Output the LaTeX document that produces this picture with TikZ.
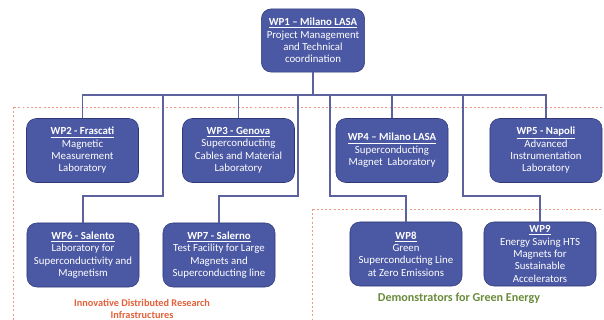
\documentclass[tikz,border=0pt]{standalone}
\usepackage{fontspec}
\setmainfont{Carlito}
\definecolor{wpfill}{HTML}{4B58A3}
\definecolor{wpedge}{HTML}{2E3877}
\definecolor{wpline}{HTML}{5C629E}
\definecolor{dotline}{HTML}{EE9A80}
\definecolor{idrlabel}{HTML}{E2603A}
\definecolor{greenlabel}{HTML}{6A8B3A}
\tikzset{
  wpbox/.style={draw=wpedge, fill=wpfill, text=white, rounded corners=7pt,
    align=center, inner sep=1pt, minimum width=2.8cm, minimum height=1.6cm,
    font=\fontsize{7.7}{8.8}\selectfont},
  wplink/.style={draw=wpline, line width=0.8pt},
  groupbox/.style={draw=dotline, line width=0.7pt, dash pattern=on 1.4pt off 1.6pt},
}
\newcommand{\wptitle}[1]{\underline{\textbf{#1}}}
\begin{document}
\begin{tikzpicture}[x=0.025cm, y=-0.025cm]
    \useasboundingbox (0,0) rectangle (604,320);
    \clip (0,0) rectangle (604,320);
    % group frames
    \draw[groupbox] (13,107) rectangle (640,340);
    \draw[groupbox] (312,209) rectangle (640,340);
    % work packages
    \node[wpbox, minimum width=2.58cm, minimum height=1.58cm] (wp1) at (313,40.5)
        {\wptitle{WP1 -- Milano LASA}\\Project Management\\and Technical\\coordination};
    \node[wpbox] (wp2) at (82.5,150.5) {\wptitle{WP2 - Frascati}\\Magnetic\\Measurement\\Laboratory};
    \node[wpbox] (wp3) at (238.5,150.5) {\wptitle{WP3 - Genova}\\Superconducting\\Cables and Material\\Laboratory};
    \node[wpbox] (wp4) at (392,150.5) {\wptitle{WP4 -- Milano LASA}\\Superconducting\\Magnet~ Laboratory};
    \node[wpbox] (wp5) at (546,150.5) {\wptitle{WP5 - Napoli}\\Advanced\\Instrumentation\\Laboratory};
    \node[wpbox] (wp6) at (83,255) {\wptitle{WP6 - Salento}\\Laboratory for\\Superconductivity and\\Magnetism};
    \node[wpbox] (wp7) at (219,255) {\wptitle{WP7 - Salerno}\\Test Facility for Large\\Magnets and\\Superconducting line};
    \node[wpbox] (wp8) at (406,254) {\wptitle{WP8}\\Green\\Superconducting Line\\at Zero Emissions};
    \node[wpbox] (wp9) at (540,254) {\wptitle{WP9}\\Energy Saving HTS\\Magnets for\\Sustainable\\Accelerators};
    % bus points
    \coordinate (bus) at (313,95);
    \coordinate (elb) at (0,196);
    \coordinate (b6) at (163,95);
    \coordinate (b7) at (298,95);
    \coordinate (b8) at (330,95);
    \coordinate (b9) at (463,95);
    \draw[wplink] (wp1) -- (bus);
    \draw[wplink] (wp2) |- (bus);
    \draw[wplink] (wp5) |- (bus);
    \draw[wplink] (wp3) -- (wp3 |- bus);
    \draw[wplink] (wp4) -- (wp4 |- bus);
    \draw[wplink] (b6) -- (b6 |- elb) -| (wp6);
    \draw[wplink] (b7) -- (b7 |- elb) -| (wp7);
    \draw[wplink] (b8) -- (b8 |- elb) -| (wp8);
    \draw[wplink] (b9) -- (b9 |- elb) -| (wp9);
    % group labels
    \node[text=idrlabel, align=center, font=\fontsize{7.3}{8.6}\selectfont\bfseries] (idr) at (142,309)
        {Innovative Distributed Research\\Infrastructures};
    \node[text=greenlabel, font=\fontsize{8.6}{10}\selectfont\bfseries] (dge) at (459,298)
        {Demonstrators for Green Energy};
\end{tikzpicture}
\end{document}
